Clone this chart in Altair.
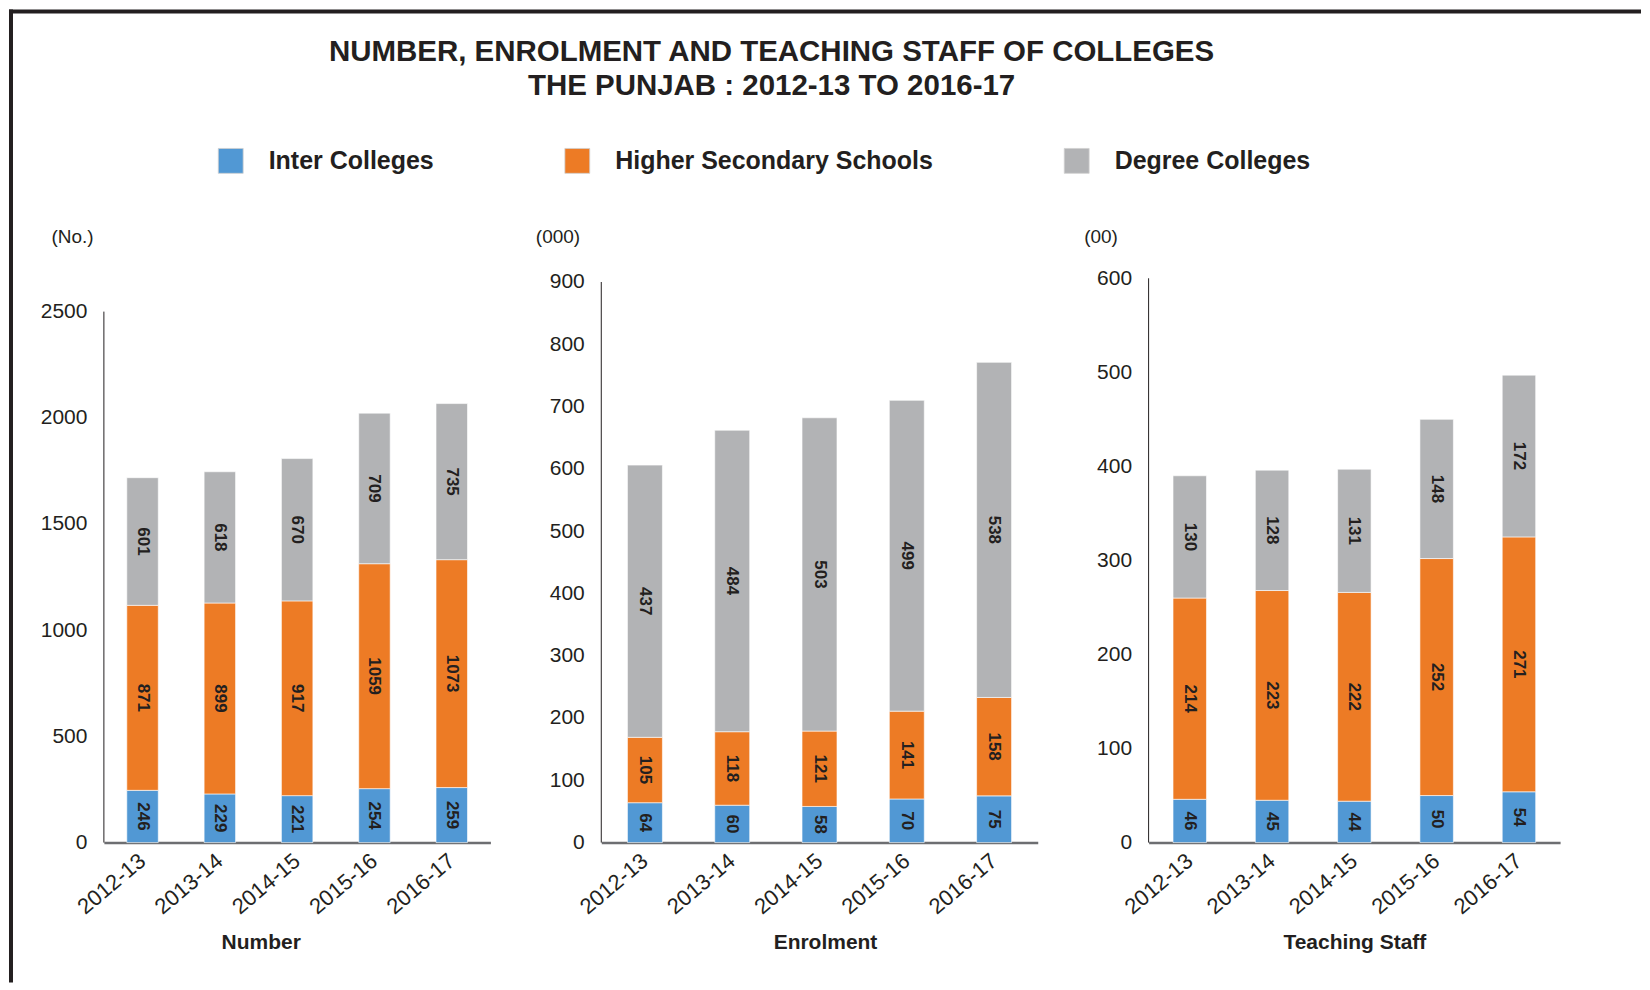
import altair as alt
import pandas as pd

# ---------------- data ----------------
years = ["2012-13", "2013-14", "2014-15", "2015-16", "2016-17"]
series = ["Inter Colleges", "Higher Secondary Schools", "Degree Colleges"]
colors = ["#5198D4", "#ED7B25", "#B2B3B5"]

number_inter = [246, 229, 221, 254, 259]
number_hss = [871, 899, 917, 1059, 1073]
number_degree = [601, 618, 670, 709, 735]

enrol_inter = [64, 60, 58, 70, 75]
enrol_hss = [105, 118, 121, 141, 158]
enrol_degree = [437, 484, 503, 499, 538]

staff_inter = [46, 45, 44, 50, 54]
staff_hss = [214, 223, 222, 252, 271]
staff_degree = [130, 128, 131, 148, 172]

number_ticks = [0, 500, 1000, 1500, 2000, 2500]
enrol_ticks = [0, 100, 200, 300, 400, 500, 600, 700, 800, 900]
staff_ticks = [0, 100, 200, 300, 400, 500, 600]

title_lines = ["NUMBER, ENROLMENT AND TEACHING STAFF OF COLLEGES",
               "THE PUNJAB : 2012-13 TO 2016-17"]

FONT = "Liberation Sans, Arial, sans-serif"
DARK = "#231f20"
H = 565

legend = alt.Legend(
    orient="none", legendX=114, legendY=-131, direction="horizontal", title=None,
    symbolType="square", symbolSize=620, symbolStrokeWidth=0.8, symbolStrokeColor="#d0d0d0",
    labelFont=FONT, labelFontSize=25, labelFontWeight="bold", labelColor=DARK,
    labelOffset=25, columnPadding=128, padding=0, labelLimit=600,
)


def panel(inter, hss, degree, xtitle, unit, ticks, dom_max, width, bar_size,
          unit_x, xtitle_x, title=None, frame=False):
    rows = []
    for i, y in enumerate(years):
        for k, (s, vals) in enumerate(zip(series, [inter, hss, degree])):
            rows.append({"year": y, "series": s, "idx": k, "value": vals[i]})
    df = pd.DataFrame(rows)

    base = alt.Chart(df).transform_stack(
        stack="value", groupby=["year"],
        sort=[alt.SortField("idx", order="ascending")], as_=["y0", "y1"]
    ).transform_calculate(mid="(datum.y0 + datum.y1) / 2")

    xenc = alt.X(
        "year:N", sort=years,
        axis=alt.Axis(
            title=xtitle, labelAngle=-40, labelAlign="right", labelBaseline="middle",
            labelPadding=15, labelFontSize=22, ticks=False, domainColor="#6d6e71",
            domainWidth=2.5,
            titleX=xtitle_x, titleY=100, titleBaseline="middle", titleAlign="center",
            titleFont=FONT, titleFontSize=21, titleFontWeight="bold", titleColor=DARK,
        ),
    )
    bars = base.mark_bar(size=bar_size, stroke="#ffffff", strokeWidth=1, strokeOpacity=0.6).encode(
        x=xenc,
        y=alt.Y(
            "y0:Q", scale=alt.Scale(domain=[0, dom_max], nice=False),
            axis=alt.Axis(
                values=ticks, format="d", domain=False, ticks=False, grid=False,
                labelPadding=17,
                title=unit, titleAngle=0, titleAlign="left", titleBaseline="middle",
                titleX=unit_x, titleY=-42, titleFont=FONT, titleFontSize=19,
                titleFontWeight="normal", titleColor=DARK,
            ),
        ),
        y2="y1:Q",
        color=alt.Color("series:N", scale=alt.Scale(domain=series, range=colors), legend=legend),
        order=alt.Order("idx:Q"),
    )
    labels = base.mark_text(
        angle=90, align="center", baseline="middle", font=FONT, fontSize=17,
        fontWeight="bold", color=DARK,
    ).encode(x=alt.X("year:N", sort=years), y=alt.Y("mid:Q"), text=alt.Text("value:Q"))

    axis_df = pd.DataFrame({"lo": [ticks[0]], "hi": [ticks[-1]]})
    yline = alt.Chart(axis_df).mark_rule(color=DARK, strokeWidth=1).encode(
        x=alt.value(0), y=alt.Y("lo:Q"), y2=alt.Y2("hi:Q")
    )
    layers = [bars, labels, yline]
    if frame:
        one = pd.DataFrame({"a": [0]})
        top = alt.Chart(one).mark_rule(color=DARK, strokeWidth=4, strokeCap="square").encode(
            x=alt.value(-93), x2=alt.value(1537), y=alt.value(-267))
        left = alt.Chart(one).mark_rule(color=DARK, strokeWidth=4, strokeCap="square").encode(
            x=alt.value(-93), y=alt.value(-267), y2=alt.value(703))
        layers += [top, left]
    props = dict(width=width, height=H)
    if title is not None:
        props["title"] = title
    return alt.layer(*layers).properties(**props)


main_title = alt.Title(
    text=title_lines, font=FONT, fontSize=29.5, fontWeight="bold", color=DARK,
    anchor="middle", frame="group", dx=-48, offset=126, lineHeight=34,
)

p1 = panel(number_inter, number_hss, number_degree, "Number", "(No.)", number_ticks,
           2657, 387, 31.5, -53, 157, frame=True)
p2 = panel(enrol_inter, enrol_hss, enrol_degree, "Enrolment", "(000)", enrol_ticks,
           906, 437, 35, -66, 224, title=main_title)
p3 = panel(staff_inter, staff_hss, staff_degree, "Teaching Staff", "(00)", staff_ticks,
           600, 412, 33.5, -65, 206)

chart = alt.hconcat(p1, p2, p3, spacing=111, bounds="flush").properties(
    padding=0
).configure_view(stroke=None).configure_axis(
    labelFont=FONT, labelFontSize=21, labelColor=DARK, grid=False,
)

chart.save("out.html", embed_options={"renderer": "svg", "actions": False})
